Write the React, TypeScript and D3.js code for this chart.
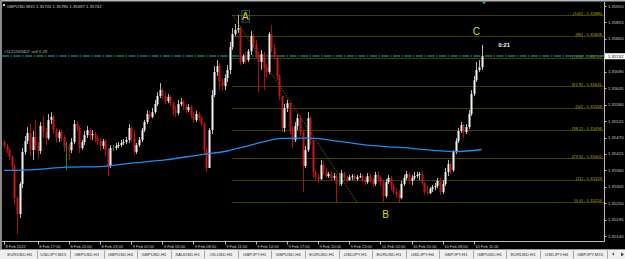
import React from 'react';
import * as d3 from 'd3';

// ---------- DATA ----------
const SYMBOL = 'GBPUSD,M15';
const START_TIME = new Date(2022, 1, 8, 13, 45); // first bar of the window
const BAR_MINUTES = 15;
const firstOpen = 1.35455;

const closes = [
  1.35442,1.35428,1.35405,1.35375,1.35268,1.35214,1.35315,1.35422,1.35458,1.35485,
  1.35428,1.35472,1.35442,1.35425,1.35509,1.35488,1.35468,1.35529,1.35539,1.35495,
  1.35468,1.35488,1.35472,1.35438,1.35438,1.35428,1.35455,1.35515,1.35502,1.35435,
  1.35455,1.35478,1.35495,1.35478,1.35482,1.35468,1.35458,1.35442,1.35458,1.35428,
  1.35375,1.35435,1.35435,1.35442,1.35445,1.35452,1.35455,1.35462,1.35502,1.35468,
  1.35422,1.35445,1.35462,1.35495,1.35522,1.35549,1.35539,1.35555,1.35582,1.35609,
  1.35629,1.35609,1.35592,1.35606,1.35585,1.35562,1.35552,1.35582,1.35589,1.35575,
  1.35562,1.35572,1.35545,1.35529,1.35549,1.35535,1.35515,1.35428,1.35368,1.35495,
  1.35612,1.35689,1.35709,1.35656,1.35642,1.35669,1.35696,1.35773,1.35816,1.35830,
  1.35836,1.35723,1.35743,1.35729,1.35759,1.35810,1.35783,1.35746,1.35723,1.35749,
  1.35703,1.35689,1.35816,1.35769,1.35739,1.35676,1.35609,1.35502,1.35569,1.35585,
  1.35495,1.35462,1.35509,1.35535,1.35488,1.35375,1.35428,1.35535,1.35462,1.35355,
  1.35338,1.35331,1.35378,1.35355,1.35341,1.35348,1.35335,1.35341,1.35315,1.35315,
  1.35351,1.35335,1.35328,1.35338,1.35341,1.35331,1.35338,1.35341,1.35328,1.35321,
  1.35341,1.35325,1.35315,1.35345,1.35335,1.35321,1.35274,1.35321,1.35335,1.35308,
  1.35288,1.35281,1.35268,1.35315,1.35335,1.35348,1.35325,1.35335,1.35341,1.35345,
  1.35348,1.35318,1.35288,1.35284,1.35298,1.35304,1.35308,1.35325,1.35288,1.35315,
  1.35355,1.35381,1.35361,1.35422,1.35458,1.35492,1.35512,1.35488,1.35505,1.35549,
  1.35616,1.35662,1.35696,1.35705,1.35742,
];

const highs = [
  1.35462,1.35448,1.35435,1.35412,1.35381,1.35274,1.35321,1.35435,1.35475,1.35505,
  1.35515,1.35492,1.35529,1.35455,1.35522,1.35542,1.35502,1.35549,1.35555,1.35545,
  1.35502,1.35495,1.35498,1.35478,1.35455,1.35448,1.35468,1.35529,1.35525,1.35509,
  1.35462,1.35492,1.35509,1.35502,1.35495,1.35488,1.35478,1.35468,1.35465,1.35465,
  1.35435,1.35445,1.35445,1.35452,1.35455,1.35462,1.35465,1.35472,1.35515,1.35509,
  1.35495,1.35452,1.35472,1.35502,1.35529,1.35562,1.35559,1.35569,1.35596,1.35622,
  1.35652,1.35636,1.35622,1.35616,1.35612,1.35592,1.35575,1.35596,1.35602,1.35596,
  1.35582,1.35582,1.35579,1.35555,1.35559,1.35555,1.35542,1.35522,1.35435,1.35502,
  1.35629,1.35709,1.35729,1.35719,1.35669,1.35682,1.35713,1.35790,1.35836,1.35850,
  1.35880,1.35843,1.35749,1.35756,1.35766,1.35826,1.35816,1.35796,1.35756,1.35763,
  1.35756,1.35716,1.35823,1.35846,1.35783,1.35746,1.35682,1.35609,1.35582,1.35596,
  1.35589,1.35509,1.35522,1.35549,1.35545,1.35495,1.35442,1.35555,1.35542,1.35468,
  1.35361,1.35348,1.35395,1.35391,1.35368,1.35355,1.35355,1.35351,1.35348,1.35351,
  1.35361,1.35355,1.35341,1.35345,1.35348,1.35348,1.35345,1.35351,1.35348,1.35338,
  1.35351,1.35348,1.35335,1.35355,1.35355,1.35341,1.35328,1.35331,1.35345,1.35341,
  1.35315,1.35301,1.35294,1.35325,1.35345,1.35358,1.35355,1.35345,1.35355,1.35355,
  1.35355,1.35358,1.35321,1.35308,1.35304,1.35311,1.35318,1.35335,1.35335,1.35328,
  1.35368,1.35395,1.35388,1.35428,1.35468,1.35502,1.35522,1.35515,1.35515,1.35562,
  1.35629,1.35676,1.35723,1.35729,1.35780,
];

const lows = [
  1.35435,1.35418,1.35395,1.35361,1.35244,1.35147,1.35201,1.35301,1.35412,1.35448,
  1.35408,1.35395,1.35428,1.35401,1.35415,1.35468,1.35445,1.35462,1.35515,1.35482,
  1.35452,1.35455,1.35458,1.35422,1.35361,1.35395,1.35418,1.35448,1.35492,1.35418,
  1.35428,1.35445,1.35468,1.35462,1.35462,1.35455,1.35445,1.35428,1.35432,1.35408,
  1.35341,1.35368,1.35425,1.35428,1.35435,1.35438,1.35445,1.35448,1.35452,1.35455,
  1.35412,1.35415,1.35438,1.35455,1.35488,1.35515,1.35532,1.35535,1.35549,1.35575,
  1.35602,1.35599,1.35582,1.35585,1.35575,1.35542,1.35539,1.35545,1.35575,1.35562,
  1.35552,1.35555,1.35535,1.35519,1.35522,1.35525,1.35509,1.35412,1.35355,1.35368,
  1.35482,1.35606,1.35676,1.35629,1.35629,1.35629,1.35656,1.35682,1.35763,1.35810,
  1.35820,1.35713,1.35716,1.35719,1.35723,1.35746,1.35769,1.35736,1.35622,1.35696,
  1.35629,1.35669,1.35682,1.35756,1.35729,1.35662,1.35596,1.35488,1.35488,1.35555,
  1.35482,1.35435,1.35455,1.35495,1.35475,1.35288,1.35368,1.35422,1.35445,1.35335,
  1.35328,1.35318,1.35328,1.35345,1.35335,1.35335,1.35325,1.35328,1.35254,1.35308,
  1.35308,1.35325,1.35321,1.35325,1.35328,1.35325,1.35325,1.35335,1.35321,1.35311,
  1.35315,1.35318,1.35304,1.35308,1.35321,1.35308,1.35254,1.35268,1.35315,1.35294,
  1.35281,1.35268,1.35251,1.35264,1.35308,1.35328,1.35315,1.35311,1.35328,1.35335,
  1.35328,1.35311,1.35278,1.35278,1.35281,1.35288,1.35294,1.35301,1.35278,1.35281,
  1.35308,1.35341,1.35348,1.35355,1.35415,1.35452,1.35485,1.35468,1.35482,1.35498,
  1.35542,1.35609,1.35656,1.35689,1.35697,
];

// moving average read at sample bars
const maBars = [0, 12, 24, 37, 50, 62, 76, 86, 95, 101, 107, 118, 130, 142, 157, 167, 174, 184];
const maValues = [1.35360, 1.35363, 1.35371, 1.35373, 1.35385, 1.35395, 1.35413, 1.35425, 1.35445,
  1.35458, 1.35467, 1.35468, 1.35456, 1.35443, 1.35434, 1.35426, 1.35423, 1.35430];

const priceTicks = [1.35910, 1.35855, 1.35800, 1.35745, 1.35690, 1.35635, 1.35580, 1.35525,
  1.35470, 1.35415, 1.35360, 1.35305, 1.35250, 1.35195, 1.35140];
const hiddenPriceTicks = [1.35745];

const fibLabels = ['100', '86', '78.6', '61.8', '50', '38.2', '23.6', '11', '0.0'];
const fibPrices = [1.35880, 1.35808, 1.35737, 1.35641, 1.35568, 1.35494, 1.35402, 1.35329, 1.35254];
const fibStartBar = 88;
const fibEndBar = 136;

const textMarks = ['A', 'B', 'C'];
const textBars = [93, 147, 182];
const textPrices = [1.35863, 1.35201, 1.35813];

const orderPrice = 1.35743;
const orderLabel = '#1125593407 sell 0.29';
const timerText = '0:21';

const tabs = ['EURUSD,H1', 'USDJPY,M15', 'GBPUSD,H1', 'GBPUSD,H4', 'GBPUSD,H1', 'XAUUSD,H1',
  'OILUSD,H1', 'GBPJPY,H1', 'GBPUSD,H4', 'EURUSD,H1', 'USDJPY,H1', 'EURUSD,H1', 'USDJPY,H4',
  'GBPJPY,H1', 'GBPUSD,H1', 'EURUSD,H1', 'USDJPY,H4', 'GBPJPY,M15'];

// ---------- LAYOUT / STYLE ----------
const W = 625;
const H = 259;
const PL = 2, PR = 604, PT = 2, PB = 241.5;
const FONT = '"Liberation Sans", Arial, sans-serif';
const AXIS_TXT = '#c8c8c8';
const BULL = '#f4f4f4';
const BULL_WICK = '#b8b8b8';
const BEAR = '#c41616';
const BEAR_WICK = '#a81212';
const DOJI = '#1c8c1c';
const FIB = '#7d7d00';
const FIB_TXT = '#a8a800';
const MARK_TXT = '#dede10';

export default function App() {
  const n = closes.length;
  const opens = closes.map((c, i) => (i === 0 ? firstOpen : closes[i - 1]));
  const x = d3.scaleLinear().domain([0, n - 1]).range([4, 481.6]);
  const y = d3.scaleLinear().domain([1.3514, 1.3591]).range([236.2, 6]);

  const times = d3.range(n).map((i) => d3.timeMinute.offset(START_TIME, BAR_MINUTES * i));
  const fmtFirst = d3.timeFormat('%-d %b %Y');
  const fmtTick = d3.timeFormat('%-d %b %H:%M');
  // first bar carries the date; regular 3-hour ticks must leave room for it
  const timeTicks = d3.range(n).filter(
    (i) => i === 0 || (i >= 8 && times[i].getMinutes() === 0 && times[i].getHours() % 3 === 2)
  );

  const maLine = d3
    .line<number>()
    .x((d, i) => x(maBars[i]))
    .y((d) => y(d))
    .curve(d3.curveMonotoneX);

  const last = n - 1;
  const f5 = (v: number) => v.toFixed(5);
  const title = `${SYMBOL}  ${f5(opens[last])} ${f5(highs[last])} ${f5(lows[last])} ${f5(closes[last])}`;

  const tabW = (607 - 3) / tabs.length;

  return (
    <svg
      width={W}
      height={H}
      style={{ position: 'fixed', left: 0, top: 0, display: 'block' }}
      fontFamily={FONT}
    >
      <defs>
        <clipPath id="plot">
          <rect x={PL} y={PT} width={PR - PL} height={PB - PT} />
        </clipPath>
      </defs>
      <rect x={0} y={0} width={W} height={H} fill="#000" />
      {/* window frame */}
      <rect x={0} y={0} width={W} height={1.5} fill="#b4b4b4" />
      <rect x={0} y={0} width={2} height={249} fill="#8a8a8a" />

      <g clipPath="url(#plot)">
        {/* fibonacci levels */}
        {fibPrices.map((p, k) => (
          <g key={'fib' + k}>
            <line
              x1={x(fibStartBar)}
              x2={PR}
              y1={Math.round(y(p)) + 0.5}
              y2={Math.round(y(p)) + 0.5}
              stroke={FIB}
              strokeWidth={1}
              strokeDasharray="1 1"
            />
            <text
              x={PR - 2}
              y={Math.round(y(p)) - 0.3}
              textAnchor="end"
              fontSize={4.3}
              fill={FIB_TXT}
            >
              {`[${fibLabels[k]}] - ${f5(p)}`}
            </text>
          </g>
        ))}
        <line
          x1={x(fibStartBar)}
          y1={y(fibPrices[0])}
          x2={x(fibEndBar)}
          y2={y(fibPrices[fibPrices.length - 1])}
          stroke="#6e6e00"
          strokeWidth={1}
          strokeDasharray="1 1"
        />

        {/* order line */}
        <line
          x1={PL}
          x2={PR}
          y1={y(orderPrice)}
          y2={y(orderPrice)}
          stroke="#117a70"
          strokeWidth={1.4}
          strokeDasharray="7 1.5 1.5 1.5"
        />
        <text x={4} y={y(orderPrice) - 3} fontSize={4.3} fill="#b8b8b8">
          {orderLabel}
        </text>

        {/* candles */}
        {closes.map((c, i) => {
          const o = opens[i];
          const cx = Math.round(x(i));
          const doji = o === c;
          const bull = c > o;
          const top = y(Math.max(o, c));
          const bot = y(Math.min(o, c));
          const wickColor = doji ? DOJI : bull ? BULL_WICK : BEAR_WICK;
          return (
            <g key={i}>
              <line
                x1={cx + 0.5}
                x2={cx + 0.5}
                y1={y(highs[i])}
                y2={y(lows[i])}
                stroke={wickColor}
                strokeWidth={1}
              />
              {doji ? (
                <rect x={cx - 0.5} y={top - 0.5} width={2} height={1} fill={DOJI} />
              ) : (
                <rect
                  x={cx - 0.5}
                  y={top}
                  width={2}
                  height={Math.max(1, bot - top)}
                  fill={bull ? BULL : BEAR}
                />
              )}
            </g>
          );
        })}

        {/* moving average */}
        <path d={maLine(maValues) || ''} fill="none" stroke="#1e8cf0" strokeWidth={1.3} />

        {/* text objects */}
        {textMarks.map((t, k) => (
          <g key={'tm' + k}>
            {k === 0 && (
              <rect
                x={x(textBars[k]) - 3.5}
                y={y(textPrices[k]) - 9.5}
                width={7.5}
                height={11.5}
                fill="none"
                stroke="#2d6d6d"
                strokeWidth={0.8}
              />
            )}
            <text
              x={x(textBars[k])}
              y={y(textPrices[k])}
              textAnchor="middle"
              fontSize={10}
              fill={MARK_TXT}
            >
              {t}
            </text>
          </g>
        ))}

        <text x={x(last) + 17} y={y(highs[last]) + 2.5} fontSize={5.6} fontWeight="bold" fill="#ffffff">
          {timerText}
        </text>
      </g>

      {/* chart shift marker */}
      <path
        d={`M${x(last) + 0.5},1.5 L${x(last) + 4.5},1.5 L${x(last) + 2.5},4.5 Z`}
        fill="#3c9c9c"
      />

      {/* title */}
      <rect x={3} y={4} width={2} height={2} fill="#d0d0d0" />
      <text x={7} y={7.6} fontSize={4.3} fill="#d0d0d0">
        {title}
      </text>

      {/* price axis */}
      <line x1={PR + 0.5} x2={PR + 0.5} y1={PT} y2={PB} stroke="#bcbcbc" strokeWidth={1} />
      {priceTicks.map((p) => (
        <g key={'pt' + p}>
          <line x1={PR} x2={PR + 2.5} y1={Math.round(y(p)) + 0.5} y2={Math.round(y(p)) + 0.5} stroke="#bcbcbc" />
          {hiddenPriceTicks.indexOf(p) < 0 && (
            <text x={608} y={y(p) + 1.5} fontSize={4.3} fill={AXIS_TXT}>
              {f5(p)}
            </text>
          )}
        </g>
      ))}
      <rect x={605} y={y(closes[last]) - 3} width={20} height={6} fill="#ffffff" />
      <text x={608} y={y(closes[last]) + 1.5} fontSize={4.3} fill="#000">
        {f5(closes[last])}
      </text>

      {/* time axis */}
      <line x1={PL} x2={PR + 1} y1={PB} y2={PB} stroke="#bcbcbc" strokeWidth={1} />
      {timeTicks.map((i) => (
        <g key={'tt' + i}>
          <line x1={Math.round(x(i)) + 0.5} x2={Math.round(x(i)) + 0.5} y1={PB} y2={PB + 3} stroke="#bcbcbc" />
          <text x={x(i) + 1.5} y={247.8} fontSize={4} fill={AXIS_TXT}>
            {i === 0 ? fmtFirst(times[i]) : fmtTick(times[i])}
          </text>
        </g>
      ))}

      {/* tab bar */}
      <rect x={0} y={249.5} width={W} height={H - 249.5} fill="#efefef" />
      <line x1={0} x2={W} y1={249.5} y2={249.5} stroke="#9a9a9a" />
      {tabs.map((t, k) => (
        <g key={'tab' + k}>
          <text x={3 + tabW * (k + 0.5)} y={256.3} fontSize={4.3} textAnchor="middle" fill="#2a2a2a">
            {t}
          </text>
          <line
            x1={Math.round(3 + tabW * (k + 1)) + 0.5}
            x2={Math.round(3 + tabW * (k + 1)) + 0.5}
            y1={250.5}
            y2={258.5}
            stroke="#a6a6a6"
          />
        </g>
      ))}
      <path d="M615,254.5 L612,254.5 L613.5,252.5 Z" fill="#444" transform="rotate(-90 613.5 254)" />
      <path d="M621,252.5 L624,254.5 L621,256.5 Z" fill="#444" />
    </svg>
  );
}
